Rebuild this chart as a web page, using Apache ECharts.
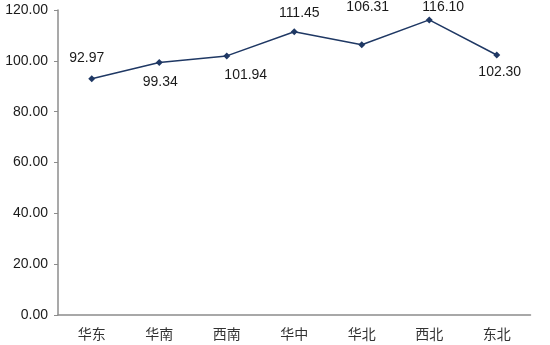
<!DOCTYPE html>
<html><head><meta charset="utf-8">
<script src="https://cdn.jsdelivr.net/npm/echarts@6/dist/echarts.min.js"></script>
<style>html,body{margin:0;padding:0;background:#fff}#c{width:550px;height:345px}</style>
</head><body><div id="c"></div>
<script>
const categories = ['华东','华南','西南','华中','华北','西北','东北'];
const values = [92.97, 99.34, 101.94, 111.45, 106.31, 116.10, 102.30];
const yTicks = {min: 0, max: 120, interval: 20};

// label placement (styling only)
const labelOffsets = [[-5,-21],[1,19.5],[19,19.5],[5,-19],[6,-38],[14,-13],[3,17.5]];

const chart = echarts.init(document.getElementById('c'));
chart.setOption({
  animation: false,
  grid: {left: 58, right: 19.5, top: 10, bottom: 30},
  xAxis: {
    type: 'category', data: categories, boundaryGap: true,
    axisLine: {lineStyle: {color: '#8c8c8c', width: 1.5}},
    axisTick: {inside: true, length: 5, lineStyle: {color: '#8c8c8c'}},
    axisLabel: {color: '#333', fontSize: 14, margin: 12, fontFamily: 'Noto Sans CJK SC'}
  },
  yAxis: {
    type: 'value', min: yTicks.min, max: yTicks.max, interval: yTicks.interval,
    axisLine: {show: true, lineStyle: {color: '#8c8c8c', width: 1.5}},
    axisTick: {show: true, length: 4, lineStyle: {color: '#8c8c8c'}},
    splitLine: {show: false},
    axisLabel: {color: '#1a1a1a', fontSize: 14, margin: 10, fontFamily: 'Liberation Sans',
      formatter: v => v.toFixed(2)}
  },
  series: [{
    type: 'line',
    data: values.map((v, i) => ({value: v, label: {offset: labelOffsets[i]}})),
    symbol: 'diamond', symbolSize: 7,
    lineStyle: {color: '#1f3864', width: 1.5},
    itemStyle: {color: '#1f3864'},
    label: {show: true, position: 'inside', color: '#1a1a1a', fontSize: 14, fontFamily: 'Liberation Sans',
      formatter: p => p.value.toFixed(2)}
  }]
});
</script></body></html>
